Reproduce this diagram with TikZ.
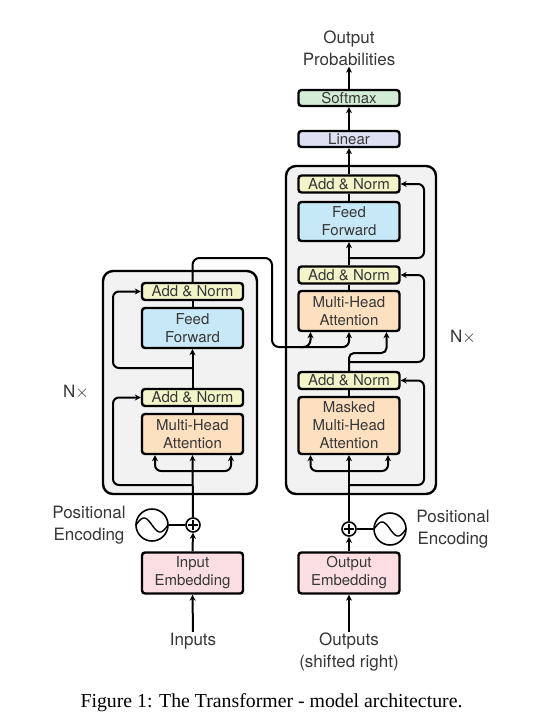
\documentclass[tikz,border=0pt]{standalone}
\usepackage{fontspec}
\setmainfont{TeX Gyre Heros}
\newfontfamily\capfont{Liberation Serif}
\usetikzlibrary{arrows.meta,calc}
\definecolor{anorm}{RGB}{242,245,200}
\definecolor{ffwd}{RGB}{199,232,246}
\definecolor{mha}{RGB}{252,224,192}
\definecolor{emb}{RGB}{251,222,225}
\definecolor{smax}{RGB}{211,236,213}
\definecolor{lin}{RGB}{221,223,242}
\definecolor{bgbox}{RGB}{242,242,242}
\definecolor{txt}{RGB}{55,55,55}
\begin{document}
\begin{tikzpicture}[x=1pt,y=-1pt,
  blk/.style={draw=black, line width=2.4pt, rounded corners=3pt, minimum width=101pt, inner sep=0pt, align=center, font=\fontsize{15}{18}\selectfont, text=txt},
  an/.style={blk, fill=anorm, minimum height=17pt},
  ffb/.style={blk, fill=ffwd, minimum height=40pt},
  mhab/.style={blk, fill=mha, minimum height=40pt},
  embb/.style={blk, fill=emb, minimum height=41pt},
  outerbox/.style={draw=black, fill=bgbox, line width=2.4pt, rounded corners=10pt, inner sep=0pt},
  conn/.style={line width=2pt, draw=black},
  arr/.style={conn, -{Stealth[length=6pt,width=6pt]}},
  biarr/.style={conn, {Stealth[length=6pt,width=6pt]}-{Stealth[length=6pt,width=6pt]}},
  lbl/.style={font=\fontsize{17}{22}\selectfont, text=txt, align=center, inner sep=1pt},
  circ/.style={circle, draw=black, line width=1.6pt, fill=white, inner sep=0pt}
]
\useasboundingbox (0,0) rectangle (535,726);
\fill[white] (0,0) rectangle (535,726);

% outer boxes
\node[outerbox, minimum width=154pt, minimum height=223pt] (encbox) at (180,382.5) {};
\node[outerbox, minimum width=150pt, minimum height=328pt] (decbox) at (361,330) {};

% encoder
\node[an] (encAN2) at (192.5,291.5) {Add \& Norm};
\node[ffb] (encFF) at (192.5,328) {Feed\\Forward};
\node[an] (encAN1) at (192.5,397.5) {Add \& Norm};
\node[mhab] (encMHA) at (192.5,434) {Multi-Head\\Attention};
\node[embb] (inemb) at (192.5,573) {Input\\Embedding};
\node[circ, minimum size=14pt] (encplus) at (193,525) {};
\draw[line width=1.3pt] ([xshift=-5pt]encplus.center) -- ([xshift=5pt]encplus.center)
  ([yshift=-5pt]encplus.center) -- ([yshift=5pt]encplus.center);
\node[circ, minimum size=32pt] (encsine) at (152,525) {};
\draw[line width=1.4pt] plot[domain=-16:16, samples=50] ({152+\x}, {525+7*sin(180*\x/16)});
\node[lbl] (encpe) at (89,525) {Positional\\Encoding};
\node[lbl] (inputs) at (193,641) {Inputs};
\node[lbl] (encN) at (76,392) {N$\times$};

% decoder
\node[an] (decAN3) at (349,184) {Add \& Norm};
\node[ffb, minimum height=39pt] (decFF) at (349,221.5) {Feed\\Forward};
\node[an] (decAN2) at (349,275) {Add \& Norm};
\node[mhab] (decMHA) at (349,311) {Multi-Head\\Attention};
\node[an] (decAN1) at (349,380.5) {Add \& Norm};
\node[mhab, minimum height=57pt] (decMMHA) at (349,425.5) {Masked\\Multi-Head\\Attention};
\node[embb] (outemb) at (349,573) {Output\\Embedding};
\node[circ, minimum size=14pt] (decplus) at (349,529) {};
\draw[line width=1.3pt] ([xshift=-5pt]decplus.center) -- ([xshift=5pt]decplus.center)
  ([yshift=-5pt]decplus.center) -- ([yshift=5pt]decplus.center);
\node[circ, minimum size=32pt] (decsine) at (390,529) {};
\draw[line width=1.4pt] plot[domain=-16:16, samples=50] ({390+\x}, {529+7*sin(180*\x/16)});
\node[lbl] (decpe) at (453,529) {Positional\\Encoding};
\node[lbl] (outputs) at (349,652) {Outputs\\(shifted right)};
\node[lbl] (decN) at (463,337) {N$\times$};

\node[blk, fill=lin, minimum height=16pt] (linear) at (349,139) {Linear};
\node[blk, fill=smax, minimum height=16pt] (softmax) at (349,98) {Softmax};
\node[lbl] (outprob) at (349,48) {Output\\Probabilities};

% encoder connectors
\draw[arr] (inputs.north) -- (inemb.south);
\draw[arr] (inemb.north) -- (encplus.south);
\draw[conn] (encsine.east) -- (encplus.west);
\draw[arr] (encplus.north) -- (encMHA.south);
\draw[biarr, rounded corners=6pt] ([xshift=-37.5pt]encMHA.south) |- (192.5,471) -| ([xshift=38.5pt]encMHA.south);
\draw[arr, rounded corners=6pt] (192.5,485) -| (113,397.5) -- (encAN1.west);
\draw[conn] (encMHA.north) -- (encAN1.south);
\draw[arr] (encAN1.north) -- (encFF.south);
\draw[arr, rounded corners=6pt] (192.5,368) -| (113,291.5) -- (encAN2.west);
\draw[conn] (encFF.north) -- (encAN2.south);

% encoder output to decoder
\draw[arr, rounded corners=7pt] (encAN2.north) |- (272,258) |- (310.5,347) -- ([xshift=-38.5pt]decMHA.south);
\draw[arr, rounded corners=6pt] (300,347) -| (decMHA.south);

% decoder connectors
\draw[arr] (outputs.north) -- (outemb.south);
\draw[arr] (outemb.north) -- (decplus.south);
\draw[conn] (decplus.east) -- (decsine.west);
\draw[arr] (decplus.north) -- (decMMHA.south);
\draw[biarr, rounded corners=6pt] ([xshift=-38.5pt]decMMHA.south) |- (349,471) -| ([xshift=39pt]decMMHA.south);
\draw[arr, rounded corners=6pt] (349,485) -| (424,380.5) -- (decAN1.east);
\draw[conn] (decMMHA.north) -- (decAN1.south);
\draw[arr, rounded corners=5pt] (decAN1.north) -- (349,353) -| ([xshift=37.5pt]decMHA.south);
\draw[arr, rounded corners=6pt] (349,362) -| (424,275) -- (decAN2.east);
\draw[conn] (decMHA.north) -- (decAN2.south);
\draw[arr] (decAN2.north) -- (decFF.south);
\draw[arr, rounded corners=6pt] (349,258) -| (424,184) -- (decAN3.east);
\draw[conn] (decFF.north) -- (decAN3.south);
\draw[arr] (decAN3.north) -- (linear.south);
\draw[arr] (linear.north) -- (softmax.south);
\draw[arr] (softmax.north) -- (outprob.south);

% caption
\node[font=\capfont\fontsize{19.8}{22}\selectfont, text=black] (caption) at (271.5,703) {Figure 1: The Transformer - model architecture.};
\end{tikzpicture}
\end{document}
